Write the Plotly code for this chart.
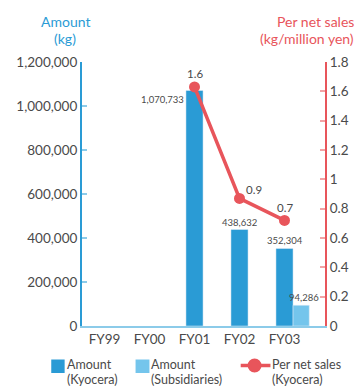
import plotly.graph_objects as go

# Fiscal years and values
years = ["FY99", "FY00", "FY01", "FY02", "FY03"]
amount_kyocera = [None, None, 1070733, 438632, 352304]
amount_subsidiaries = [None, None, None, None, 94286]
per_net_sales = [None, None, 1.63, 0.87, 0.72]

left_ticks = [0, 200000, 400000, 600000, 800000, 1000000, 1200000]
right_ticks = [0, 0.2, 0.4, 0.6, 0.8, 1, 1.2, 1.4, 1.6, 1.8]

legend_labels = [("Amount", "(Kyocera)"), ("Amount", "(Subsidiaries)"), ("Per net sales", "(Kyocera)")]
left_title = ("Amount", "(kg)")
right_title = ("Per net sales", "(kg/million yen)")

BLUE = "#2a9bd5"
LIGHT_BLUE = "#74c5ec"
RED = "#e8555b"
TEXT = "#4a4a4a"
FONT = "Lato"

W, H = 361, 387
ML, MR, MT, MB = 82, 34, 62, 61
PW, PH = W - ML - MR, H - MT - MB


def px(x):
    """Pixel column -> paper x."""
    return (x - ML) / PW


def py(y):
    """Pixel row -> paper y."""
    return (H - MB - y) / PH


def text_line(fig, x, y, text, color, size, anchor):
    fig.add_annotation(xref="paper", yref="paper", x=px(x), y=py(y), text=text,
                       showarrow=False, xanchor=anchor, yanchor="middle", borderpad=0,
                       font=dict(size=size, color=color, family=FONT))


fig = go.Figure()

fig.add_trace(go.Bar(
    x=years, y=amount_kyocera, name=" ".join(legend_labels[0]),
    marker_color=BLUE, width=0.38, offset=-0.19,
))
fig.add_trace(go.Bar(
    x=years, y=amount_subsidiaries, name=" ".join(legend_labels[1]),
    marker_color=LIGHT_BLUE, width=0.36, offset=0.19,
))
fig.add_trace(go.Scatter(
    x=years, y=per_net_sales, name=" ".join(legend_labels[2]),
    yaxis="y2", mode="lines+markers",
    line=dict(color=RED, width=3.5), marker=dict(color=RED, size=11),
))

# Value labels on bars
bar_label_style = {
    "FY01": dict(xanchor="right", yanchor="top", xshift=-9, yshift=-2),
}
for yr, v in zip(years, amount_kyocera):
    if v is None:
        continue
    st = bar_label_style.get(yr, dict(xanchor="center", yanchor="bottom", xshift=0, yshift=0))
    fig.add_annotation(x=yr, y=v, text=f"{v:,}", showarrow=False,
                       font=dict(size=9.5, color=TEXT, family=FONT), **st)
for yr, v in zip(years, amount_subsidiaries):
    if v is None:
        continue
    fig.add_annotation(x=yr, y=v, text=f"{v:,}", showarrow=False, xshift=19,
                       xanchor="center", yanchor="bottom",
                       font=dict(size=9.5, color=TEXT, family=FONT))

# Value labels on the line
line_label_style = {
    "FY02": dict(xshift=14, yshift=9),
}
for yr, v in zip(years, per_net_sales):
    if v is None:
        continue
    st = line_label_style.get(yr, dict(xshift=0, yshift=13))
    fig.add_annotation(x=yr, y=v, yref="y2", text=f"{v:.1f}", showarrow=False,
                       xanchor="center", yanchor="middle",
                       font=dict(size=11.5, color=TEXT, family=FONT), **st)

# Axis titles, one annotation per line for tight spacing
for line, yy in zip(left_title, [22, 39]):
    text_line(fig, 65, yy, line, BLUE, 14, "center")
for line, yy in zip(right_title, [22, 39]):
    text_line(fig, 357, yy, line, RED, 14, "right")

# Legend drawn below the plot
shapes = [
    dict(type="rect", xref="paper", yref="paper", x0=px(51), x1=px(64.5), y0=py(373), y1=py(359.5),
         fillcolor=BLUE, line_width=0),
    dict(type="rect", xref="paper", yref="paper", x0=px(136), x1=px(150), y0=py(373), y1=py(359.5),
         fillcolor=LIGHT_BLUE, line_width=0),
    dict(type="line", xref="paper", yref="paper", x0=px(242), x1=px(272), y0=py(365.5), y1=py(365.5),
         line=dict(color=RED, width=3.5)),
    dict(type="circle", xref="paper", yref="paper", x0=px(249), x1=px(263), y0=py(372.5), y1=py(358.5),
         fillcolor=RED, line_width=0),
]
for (l1, l2), xl in zip(legend_labels, [66, 151, 273]):
    text_line(fig, xl, 364, l1, TEXT, 12.5, "left")
    text_line(fig, xl, 379, l2, TEXT, 12.5, "left")

fig.update_layout(
    width=W, height=H,
    margin=dict(l=ML, r=MR, t=MT, b=MB),
    paper_bgcolor="white", plot_bgcolor="white",
    font=dict(family=FONT, color=TEXT, size=13.5),
    barmode="overlay",
    showlegend=False,
    shapes=shapes,
    xaxis=dict(
        type="category", range=[-0.5, 4.9],
        showline=True, linecolor="#8ccbe9", linewidth=2,
        ticks="", showgrid=False, tickfont=dict(size=13.5, color=TEXT),
    ),
    yaxis=dict(
        range=[0, 1200000], tickvals=left_ticks, tickformat=",",
        showline=True, linecolor=BLUE, linewidth=2,
        ticks="inside", ticklen=5, tickcolor="#8ccbe9", tickwidth=2,
        showgrid=False, zeroline=False, tickfont=dict(size=13.5, color=TEXT),
    ),
    yaxis2=dict(
        overlaying="y", side="right", range=[0, 1.8], tickvals=right_ticks,
        showline=True, linecolor=RED, linewidth=2,
        ticks="inside", ticklen=5, tickcolor="#f2a4a6", tickwidth=2,
        showgrid=False, zeroline=False, tickfont=dict(size=13.5, color=TEXT),
    ),
)

fig.write_html("out.html")
